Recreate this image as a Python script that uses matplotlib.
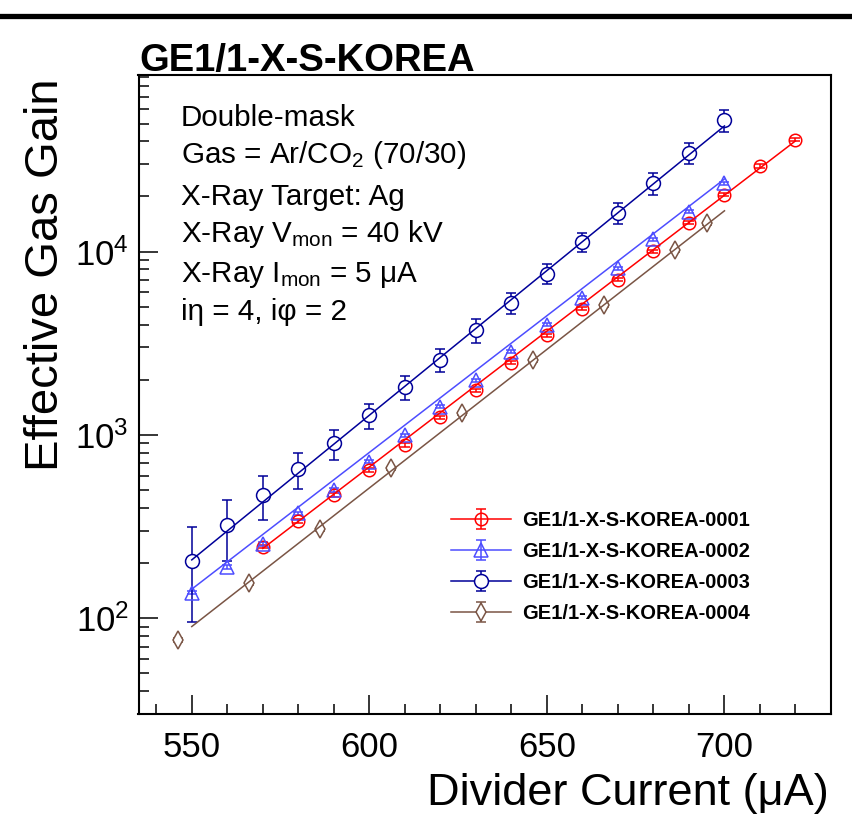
import numpy as np
import matplotlib
matplotlib.use("Agg")
import matplotlib.pyplot as plt
from matplotlib.lines import Line2D
from matplotlib.ticker import MultipleLocator, LogLocator, NullFormatter, FixedLocator

plt.rcParams['font.family'] = ['Liberation Sans', 'DejaVu Sans']
plt.rcParams['mathtext.fontset'] = 'custom'
plt.rcParams['mathtext.rm'] = 'Liberation Sans'
plt.rcParams['mathtext.it'] = 'Liberation Sans:italic'
plt.rcParams['mathtext.bf'] = 'Liberation Sans:bold'
plt.rcParams['mathtext.default'] = 'regular'

# ---------------- data ----------------
labels = ["GE1/1-X-S-KOREA-0001", "GE1/1-X-S-KOREA-0002",
          "GE1/1-X-S-KOREA-0003", "GE1/1-X-S-KOREA-0004"]

current_0001 = [570, 580, 590, 600, 610, 620, 630, 640, 650, 660, 670, 680, 690, 700, 710, 720]
gain_0001 = [246, 339, 470, 643, 880, 1245, 1754, 2483, 3499, 4889, 7035, 10040, 14380, 20460, 29300, 40900]
err_0001 = [5, 7, 9, 13, 18, 25, 35, 50, 70, 98, 141, 201, 288, 409, 586, 818]

current_0002 = [550, 560, 570, 580, 590, 600, 610, 620, 630, 640, 650, 660, 670, 680, 690, 700]
gain_0002 = [138, 190, 254, 373, 500, 714, 997, 1426, 1991, 2839, 4000, 5600, 8100, 11700, 16500, 23560]
err_0002 = [3, 4, 5, 7, 10, 14, 20, 29, 40, 57, 80, 112, 162, 234, 330, 471]

current_0003 = [550, 560, 570, 580, 590, 600, 610, 620, 630, 640, 650, 660, 670, 680, 690, 700]
gain_0003 = [205, 322, 470, 649, 899, 1283, 1815, 2577, 3727, 5270, 7590, 11290, 16250, 23650, 34680, 52200]
err_0003 = [110, 118, 128, 143, 170, 200, 270, 365, 540, 710, 960, 1300, 2100, 3200, 4700, 7000]

current_0004 = [546, 566, 586, 606, 626, 646, 666, 686, 695]
gain_0004 = [76, 155, 305, 656, 1309, 2559, 5096, 10160, 14250]
err_0004 = [2, 3, 6, 13, 26, 51, 102, 203, 285]

# exponential fit lines (end points)
fit_current_0001 = [570, 720]
fit_gain_0001 = [240, 40200]
fit_current_0002 = [550, 700]
fit_gain_0002 = [144, 24900]
fit_current_0003 = [550, 700]
fit_gain_0003 = [208, 48500]
fit_current_0004 = [550, 700]
fit_gain_0004 = [90, 16700]

info_lines = ["Double-mask",
              "Gas = Ar/CO$_{2}$ (70/30)",
              "X-Ray Target: Ag",
              "X-Ray V$_{mon}$ = 40 kV",
              "X-Ray I$_{mon}$ = 5 \u03bcA",
              "i\u03b7 = 4, i\u03c6 = 2"]

title = "GE1/1-X-S-KOREA"
xlabel = "Divider Current (\u03bcA)"
ylabel = "Effective Gas Gain"
x_ticks = [550, 600, 650, 700]

# ---------------- figure ----------------
W, H = 853, 824
fig = plt.figure(figsize=(W / 100, H / 100), dpi=100)

def fx(px):
    return px / W

def fy(py):
    return 1 - py / H

ax_left, ax_right, ax_top, ax_bottom = 138.5, 831, 75, 714
ax = fig.add_axes([fx(ax_left), fy(ax_bottom), fx(ax_right - ax_left), (ax_bottom - ax_top) / H])
ax.set_yscale('log')
ax.set_xlim(535, 730)
ax.set_ylim(30, 9.2e4)

series = [
    (current_0001, gain_0001, err_0001, fit_current_0001, fit_gain_0001, '#ff0000', 'o', 9.0, 'none'),
    (current_0002, gain_0002, err_0002, fit_current_0002, fit_gain_0002, '#4d4dff', '^', 10.0, 'none'),
    (current_0003, gain_0003, err_0003, fit_current_0003, fit_gain_0003, '#000099', 'o', 10.0, 'white'),
    (current_0004, gain_0004, err_0004, fit_current_0004, fit_gain_0004, '#7a5545', 'd', 9.0, 'white'),
]

handles = []
for (xs, ys, es, fxs, fys, col, mk, ms, mfc) in series:
    eb = ax.errorbar(xs, ys, yerr=es, fmt=mk, color=col, mfc=mfc, mec=col, ms=ms, mew=1.1,
                     ecolor=col, elinewidth=1.1, capsize=3.6, capthick=1.1, zorder=3)
    fl, = ax.plot(fxs, fys, '-', color=col, lw=1.1, zorder=4)
    handles.append((fl, eb))

# ticks
ax.xaxis.set_major_locator(FixedLocator(x_ticks))
ax.xaxis.set_minor_locator(MultipleLocator(10))
ax.yaxis.set_major_locator(LogLocator(base=10, numticks=10))
ax.yaxis.set_minor_locator(LogLocator(base=10, subs=np.arange(2, 10), numticks=20))
ax.yaxis.set_minor_formatter(NullFormatter())
ax.tick_params(which='both', direction='in', top=False, right=False, width=1.1, color='black')
ax.tick_params(which='major', length=14)
ax.tick_params(which='minor', length=7)
ax.tick_params(axis='x', which='major', labelsize=25, pad=12)
ax.tick_params(axis='y', which='major', labelsize=25, pad=7)
for sp in ax.spines.values():
    sp.set_linewidth(1.5)

# title, labels
fig.text(fx(139), fy(71), title, fontsize=27.5, fontweight='bold', ha='left', va='baseline')
fig.text(fx(829), fy(805), xlabel, fontsize=32.5, ha='right', va='baseline')
fig.text(fx(46), fy(78), ylabel, fontsize=34, rotation=90, ha='center', va='top')

# info text
baselines = [125.7, 163.3, 205, 242.3, 282.3, 320]
for t, b in zip(info_lines, baselines):
    fig.text(fx(181), fy(b), t, fontsize=21.3, ha='left', va='baseline')

# legend
leg = ax.legend(handles, labels, loc='center left', bbox_to_anchor=(fx(451), fy(567)),
                bbox_transform=fig.transFigure, frameon=False, borderpad=0, borderaxespad=0,
                handlelength=3.0, handletextpad=0.55, labelspacing=0.6,
                prop={'weight': 'bold', 'size': 14.5})

# top black bar
fig.add_artist(Line2D([0, 1], [fy(16), fy(16)], transform=fig.transFigure, color='black', lw=3.8))

fig.savefig("out.png", dpi=100)
